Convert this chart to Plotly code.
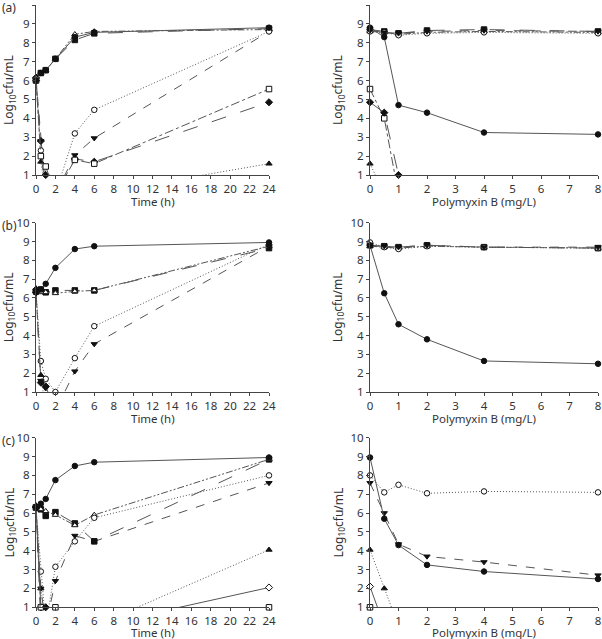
import plotly.graph_objects as go

# ---------------- data ----------------
TIME = [0, 0.5, 1, 2, 4, 6, 24]
CONC = [0, 0.5, 1, 2, 4, 8]
# values below 1 (undetectable) stored as 0

# panel (a) time-kill
A_CTRL = [6.0, 6.4, 6.55, 7.15, 8.3, 8.55, 8.8]
A_SQ = [6.05, 6.4, 6.55, 7.15, 8.15, 8.5, 8.75]
A_OT = [6.2, 6.4, 6.55, 7.15, 8.45, 8.6, 8.7]
A_TU = [6.2, 1.7, 0, 0, 0, 0, 1.6]
A_TD = [6.1, 2.8, 0, 0, 2.05, 2.95, 8.6]
A_DI = [6.0, 2.8, 1.0, 0, 1.85, 1.7, 4.85]
A_OC = [6.1, 2.3, 0, 0, 3.2, 4.45, 8.6]
A_OS = [6.0, 2.0, 1.45, 0, 1.8, 1.6, 5.55]
# panel (a) PAP at 24 h
A_P_CTRL = [8.8, 8.3, 4.7, 4.3, 3.25, 3.15]
A_P_SQ = [8.7, 8.6, 8.5, 8.65, 8.7, 8.6]
A_P_OT = [8.6, 8.55, 8.45, 8.55, 8.6, 8.55]
A_P_OC = [8.6, 8.55, 8.4, 8.5, 8.55, 8.5]
A_P_TD = [8.65, 8.55, 8.5, 8.6, 8.65, 8.6]
A_P_OS = [5.55, 4.0, 0, 0, 0, 0]
A_P_DI = [4.85, 4.3, 1.0, 0, 0, 0]
A_P_TU = [1.6, 0, 0, 0, 0, 0]

# panel (b) time-kill
B_CTRL = [6.3, 6.45, 6.75, 7.6, 8.6, 8.75, 8.95]
B_SQ = [6.35, 6.45, 6.3, 6.4, 6.4, 6.4, 8.65]
B_OT = [6.5, 6.3, 6.3, 6.25, 6.35, 6.4, 8.75]
B_OC = [6.3, 2.65, 1.7, 1.0, 2.8, 4.5, 8.85]
B_TD = [6.3, 1.6, 1.2, 0, 2.1, 3.55, 8.75]
B_TU = [6.5, 1.9, 0, 0, 0, 0, 0]
B_DI = [6.3, 1.5, 1.3, 0, 0, 0, 0]
# panel (b) PAP
B_P_CTRL = [8.8, 6.25, 4.6, 3.8, 2.65, 2.5]
B_P_SQ = [8.8, 8.75, 8.7, 8.8, 8.7, 8.65]
B_P_OT = [8.75, 8.7, 8.65, 8.75, 8.7, 8.65]
B_P_OC = [8.95, 8.7, 8.6, 8.75, 8.7, 8.65]
B_P_TD = [8.75, 8.75, 8.7, 8.8, 8.7, 8.7]

# panel (c) time-kill
C_CTRL = [6.3, 6.5, 6.75, 7.75, 8.5, 8.7, 8.95]
C_SQ = [6.3, 6.2, 5.85, 6.05, 5.45, 4.5, 8.85]
C_OT = [6.4, 6.2, 6.1, 5.9, 5.35, 5.9, 8.85]
C_OC = [6.3, 2.9, 0, 3.15, 4.5, 5.75, 8.0]
C_TD = [6.3, 2.0, 0, 2.4, 4.8, 4.5, 7.6]
C_TU = [6.4, 2.0, 0, 0, 0, 0, 4.05]
C_OD = [6.3, 1.0, 0, 0, 0, 0, 2.05]
C_OS = [6.3, 1.0, 0, 1.0, 0, 0, 1.0]
C_DI = [6.3, 0, 1.0, 0, 0, 0, 0]
# panel (c) PAP
C_P_CTRL = [8.95, 5.7, 4.3, 3.25, 2.9, 2.5]
C_P_TD = [7.6, 6.0, 4.35, 3.7, 3.4, 2.7]
C_P_OC = [8.0, 7.1, 7.5, 7.05, 7.15, 7.1]
C_P_TU = [4.05, 2.0, 0, 0, 0, 0]
C_P_OD = [2.1, 0, 0, 0, 0, 0]
C_P_OS = [1.0, 0, 0, 0, 0, 0]

PANEL_LABELS = ["(a)", "(b)", "(c)"]
X_TITLES = ["Time (h)", "Polymyxin B (mg/L)"]
Y_TITLE = "Log<sub>10</sub>cfu/mL"

# ---------------- styles ----------------
STYLE = {
    "ctrl": dict(symbol="circle", fill="#111", dash="solid"),
    "sq": dict(symbol="square", fill="#111", dash="longdash"),
    "tu": dict(symbol="triangle-up", fill="#111", dash="1px,2px"),
    "td": dict(symbol="triangle-down", fill="#111", dash="dash"),
    "di": dict(symbol="diamond", fill="#111", dash="longdash"),
    "oc": dict(symbol="circle", fill="white", dash="1px,2px"),
    "os": dict(symbol="square", fill="white", dash="dashdot"),
    "ot": dict(symbol="triangle-up", fill="white", dash="7px,2px,2px,2px,2px,2px"),
    "od": dict(symbol="diamond", fill="white", dash="solid"),
}

panels = [
    (TIME, [("sq", A_SQ), ("ot", A_OT), ("tu", A_TU), ("td", A_TD), ("di", A_DI),
            ("oc", A_OC), ("os", A_OS), ("ctrl", A_CTRL)],
     CONC, [("sq", A_P_SQ), ("ot", A_P_OT), ("oc", A_P_OC), ("td", A_P_TD),
            ("os", A_P_OS), ("di", A_P_DI), ("tu", A_P_TU), ("ctrl", A_P_CTRL)]),
    (TIME, [("sq", B_SQ), ("ot", B_OT), ("oc", B_OC), ("td", B_TD), ("tu", B_TU),
            ("di", B_DI), ("ctrl", B_CTRL)],
     CONC, [("sq", B_P_SQ), ("ot", B_P_OT), ("oc", B_P_OC), ("td", B_P_TD),
            ("ctrl", B_P_CTRL)]),
    (TIME, [("sq", C_SQ), ("ot", C_OT), ("oc", C_OC), ("td", C_TD), ("tu", C_TU),
            ("od", C_OD), ("os", C_OS), ("di", C_DI), ("ctrl", C_CTRL)],
     CONC, [("oc", C_P_OC), ("td", C_P_TD), ("tu", C_P_TU), ("od", C_P_OD),
            ("os", C_P_OS), ("ctrl", C_P_CTRL)]),
]

W, H = 602, 639
X_DOMS_PX = [(36, 269), (370, 598)]
Y_TITLE_X_PX = [9, 338]
ROWS_PX = [(5, 175), (222.7, 392), (437.7, 607.3)]

fig = go.Figure()
FONT = "Noto Sans"
AX_COL = "#444"
TXT_COL = "#333"


def axis_common():
    return dict(showline=True, linecolor=AX_COL, linewidth=1, ticks="outside",
                ticklen=3, tickcolor=AX_COL, showgrid=False, zeroline=False,
                automargin=False,
                tickfont=dict(family=FONT, size=11.5, color=TXT_COL))


def ann(text, xpx, ypx, angle=0, xanchor="center", size=12):
    fig.add_annotation(text=text, xref="paper", yref="paper", x=xpx / W, y=1 - ypx / H,
                       xanchor=xanchor, yanchor="middle", textangle=angle,
                       showarrow=False, font=dict(family=FONT, size=size, color=TXT_COL))


ax_idx = 0
for r, (tx, tseries, cx, cseries) in enumerate(panels):
    top, bot = ROWS_PX[r]
    ydom = (1 - bot / H, 1 - top / H)
    for c, (xs, series, xr, dt) in enumerate([
            (tx, tseries, [0, 24], 2),
            (cx, cseries, [0, 8], 1)]):
        ax_idx += 1
        sfx = "" if ax_idx == 1 else str(ax_idx)
        x0, x1 = X_DOMS_PX[c]
        for key, vals in series:
            st = STYLE[key]
            fig.add_trace(go.Scatter(
                x=xs, y=vals, mode="lines+markers", xaxis="x" + sfx, yaxis="y" + sfx,
                line=dict(color="#555", width=1, dash=st["dash"]),
                marker=dict(symbol=st["symbol"], size=5.5, color=st["fill"],
                            opacity=[1 if v >= 1 else 0 for v in vals],
                            line=dict(color="#111", width=1)),
                cliponaxis=False, showlegend=False, hoverinfo="skip"))
        xa = axis_common()
        xa.update(domain=[x0 / W, x1 / W], range=xr, dtick=dt, tick0=0, anchor="y" + sfx)
        ya = axis_common()
        ya.update(domain=list(ydom), range=[1, 10], dtick=1, anchor="x" + sfx)
        fig.update_layout(**{"xaxis" + sfx: xa, "yaxis" + sfx: ya})
        ann(X_TITLES[c], (x0 + x1) / 2, min(bot + 26, H - 7), size=11.5)
        ann(Y_TITLE, Y_TITLE_X_PX[c], (top + bot) / 2, angle=-90)
    ann(PANEL_LABELS[r], 0, top + 3, xanchor="left")

fig.update_layout(width=W, height=H, margin=dict(l=0, r=0, t=0, b=0),
                  paper_bgcolor="white", plot_bgcolor="white")
fig.write_html("out.html", config={"displayModeBar": False},
               post_script="document.body.style.margin='0';document.body.style.padding='0';")
